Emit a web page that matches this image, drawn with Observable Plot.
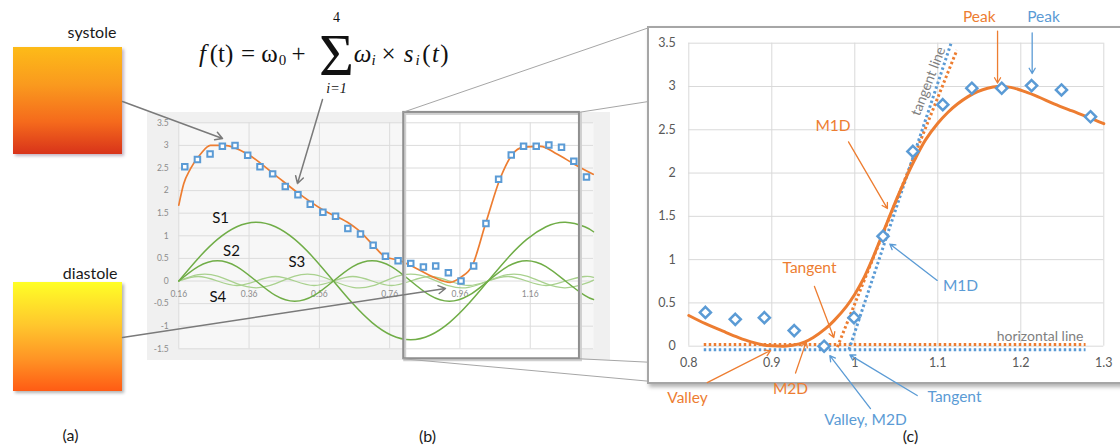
<!DOCTYPE html>
<html><head><meta charset="utf-8">
<script src="https://cdn.jsdelivr.net/npm/d3@7"></script>
<script src="https://cdn.jsdelivr.net/npm/@observablehq/plot@0.6"></script>
<style>
body{margin:0;background:#fff;}
#root{position:relative;width:1120px;height:446px;overflow:hidden;font-family:Lato,"Open Sans",sans-serif;}
.abs{position:absolute;}
#bbg{left:147px;top:112px;width:463px;height:248px;background:#f0f0f0;}
#bplot{left:147px;top:105px;}
#cframe{left:647px;top:26px;width:490px;height:354px;border:2px solid #a6a6a6;background:#fff;box-shadow:2px 3px 4px rgba(0,0,0,0.3);}
#cplot{left:648px;top:0px;}
#sys{left:13px;top:47px;width:109px;height:107px;background:linear-gradient(180deg,#fdbb18 0%,#fa9a1e 35%,#f56a1c 70%,#d8331a 100%);box-shadow:2px 2px 3px rgba(80,40,80,0.35);}
#dia{left:13px;top:282px;width:109px;height:109px;background:linear-gradient(180deg,#ffff26 0%,#ffc62d 40%,#ff9525 70%,#ff5b14 100%);box-shadow:2px 2px 3px rgba(0,0,0,0.3);}
#overlay{left:0;top:0;pointer-events:none;}
</style></head>
<body><div id="root">
<div id="bbg" class="abs"></div>
<div id="bplot" class="abs"></div>
<div id="cframe" class="abs"></div>
<div id="cplot" class="abs"></div>
<div id="sys" class="abs"></div>
<div id="dia" class="abs"></div>
<div id="overlay" class="abs"></div>
</div>
<script>
// ---------- data ----------
// observed samples (blue squares / diamonds)
const bT = [0.177, 0.213, 0.249, 0.284, 0.320, 0.356, 0.391, 0.427, 0.463, 0.499, 0.534, 0.570, 0.606, 0.641, 0.677, 0.713, 0.748, 0.784, 0.820, 0.856, 0.891, 0.927, 0.963, 0.999, 1.034, 1.070, 1.106, 1.141, 1.177, 1.213, 1.249, 1.284, 1.320];
const bSignal = [2.53, 2.69, 2.81, 2.98, 3.00, 2.78, 2.53, 2.37, 2.09, 1.91, 1.70, 1.52, 1.43, 1.16, 1.04, 0.79, 0.55, 0.45, 0.39, 0.31, 0.33, 0.18, 0.00, 0.33, 1.27, 2.25, 2.79, 2.98, 2.98, 3.01, 2.96, 2.65, 2.30];
// fitted curve in panel (b)
const bFitT = [0.16, 0.174, 0.193, 0.222, 0.25, 0.29, 0.355, 0.43, 0.497, 0.573, 0.64, 0.672, 0.71, 0.748, 0.786, 0.828, 0.886, 0.932, 0.962, 0.995, 1.033, 1.076, 1.108, 1.141, 1.189, 1.236, 1.284, 1.339];
const bFit = [1.68, 2.15, 2.48, 2.81, 3.0, 3.0, 2.81, 2.37, 1.96, 1.56, 1.30, 1.12, 0.82, 0.53, 0.46, 0.31, 0.08, -0.03, 0.08, 0.34, 1.27, 2.30, 2.79, 2.96, 2.98, 2.81, 2.59, 2.36];
// basis functions s1..s4
const sT = [0.16, 0.215, 0.27, 0.325, 0.38, 0.435, 0.49, 0.545, 0.60, 0.655, 0.71, 0.765, 0.82, 0.875, 0.93, 0.985, 1.04, 1.095, 1.15, 1.205, 1.26, 1.315, 1.34];
const S1 = [0, 0.50, 0.92, 1.20, 1.30, 1.20, 0.92, 0.50, 0, -0.50, -0.92, -1.20, -1.30, -1.20, -0.92, -0.50, 0, 0.50, 0.92, 1.20, 1.30, 1.20, 1.09];
const S2 = [0, 0.32, 0.45, 0.32, 0, -0.32, -0.45, -0.32, 0, 0.32, 0.45, 0.32, 0, -0.32, -0.45, -0.32, 0, 0.32, 0.45, 0.32, 0, -0.32, -0.41];
const S3 = [0, 0.14, 0.11, -0.06, -0.15, -0.06, 0.11, 0.14, 0, -0.14, -0.11, 0.06, 0.15, 0.06, -0.11, -0.14, 0, 0.14, 0.11, -0.06, -0.15, -0.06, 0.02];
const S4 = [0, 0.10, 0, -0.10, 0, 0.10, 0, -0.10, 0, 0.10, 0, -0.10, 0, 0.10, 0, -0.10, 0, 0.10, 0, -0.10, 0, 0.10, 0.08];
const sLabels = [
  {label: "S1", x: 0.279, y: 1.40},
  {label: "S2", x: 0.310, y: 0.67},
  {label: "S3", x: 0.496, y: 0.42},
  {label: "S4", x: 0.271, y: -0.36}
];
// fitted curve in panel (c)
const cFitT = [0.80, 0.82, 0.842, 0.86, 0.875, 0.89, 0.90, 0.915, 0.925, 0.94, 0.95, 0.965, 0.975, 0.99, 1.0, 1.01, 1.02, 1.03, 1.04, 1.05, 1.06, 1.072, 1.085, 1.10, 1.112, 1.124, 1.136, 1.148, 1.16, 1.172, 1.188, 1.205, 1.221, 1.24, 1.261, 1.28, 1.30];
const cFit = [0.355, 0.26, 0.17, 0.10, 0.05, 0.015, 0.005, 0.0, 0.01, 0.05, 0.10, 0.205, 0.295, 0.46, 0.60, 0.77, 0.98, 1.215, 1.455, 1.69, 1.91, 2.15, 2.38, 2.575, 2.70, 2.80, 2.88, 2.94, 2.98, 3.00, 2.99, 2.94, 2.88, 2.80, 2.72, 2.65, 2.57];
const fitTangent = [{x: 0.979, y: -0.01}, {x: 1.123, y: 3.42}];
const obsTangent = [{x: 0.993, y: -0.04}, {x: 1.116, y: 3.50}];
const fitHorizontal = [{x: 0.818, y: 0.02}, {x: 1.278, y: 0.02}];
const obsHorizontal = [{x: 0.818, y: -0.04}, {x: 1.278, y: -0.04}];
const zoomRange = [0.8, 1.3];
// ticks
const bXTicks = [0.16, 0.36, 0.56, 0.76, 0.96, 1.16];
const bXLabels = ["0.16", "0.36", "0.56", "0.76", "0.96", "1.16"];
const bYTicks = [-1.5, -1, -0.5, 0, 0.5, 1, 1.5, 2, 2.5, 3, 3.5];
const bYLabels = ["-1.5", "-1", "-0.5", "0", "0.5", "1", "1.5", "2", "2.5", "3", "3.5"];
const cXTicks = [0.8, 0.9, 1.0, 1.1, 1.2, 1.3];
const cXLabels = ["0.8", "0.9", "1", "1.1", "1.2", "1.3"];
const cYTicks = [0, 0.5, 1, 1.5, 2, 2.5, 3, 3.5];
const cYLabels = ["0", "0.5", "1", "1.5", "2", "2.5", "3", "3.5"];
// annotations in panel (c)  (series: fit = orange, obs = blue)
const cAnnotations = [
  {label: "Peak", series: "fit", x: 1.150, y: 3.80, x1: 1.172, y1: 3.64, x2: 1.172, y2: 3.04},
  {label: "Peak", series: "obs", x: 1.2274, y: 3.80, x1: 1.2137, y1: 3.62, x2: 1.2137, y2: 3.15},
  {label: "M1D", series: "fit", x: 0.9737, y: 2.54, x1: 0.9924, y1: 2.36, x2: 1.0393, y2: 1.59},
  {label: "M1D", series: "obs", x: 1.1273, y: 0.69, x1: 1.0993, y1: 0.76, x2: 1.0422, y2: 1.18},
  {label: "Tangent", series: "fit", x: 0.9454, y: 0.90, x1: 0.9514, y1: 0.69, x2: 0.9747, y2: 0.10},
  {label: "Tangent", series: "obs", x: 1.1201, y: -0.59, x1: 1.0752, y1: -0.57, x2: 0.994, y2: -0.10},
  {label: "Valley", series: "fit", x: 0.7984, y: -0.60, x1: 0.8222, y1: -0.42, x2: 0.8984, y2: -0.05},
  {label: "M2D", series: "fit", x: 0.9225, y: -0.50, x1: 0.9286, y1: -0.31, x2: 0.9414, y2: 0.05},
  {label: "Valley, M2D", series: "obs", x: 1.0129, y: -0.85, x1: 1.0189, y1: -0.72, x2: 0.9699, y2: -0.11}
];
const lineNotes = [
  {label: "tangent line", x: 1.0887, y: 3.06},
  {label: "horizontal line", x: 1.2755, y: 0.115}
];
// page-level annotations (pixel layout)
const panelLabels = [
  {label: "systole", x: 91.5, y: 32}, {label: "diastole", x: 89.7, y: 273},
  {label: "(a)", x: 70, y: 435}, {label: "(b)", x: 427, y: 436}, {label: "(c)", x: 910, y: 436}
];
const panelArrows = [
  {x1: 122, y1: 101, x2: 222, y2: 138},
  {x1: 122, y1: 337, x2: 445, y2: 288},
  {x1: 322, y1: 99, x2: 297, y2: 183}
];
const zoomConnectors = [
  {x1: 402.7, y1: 111.7, x2: 648, y2: 27.3},
  {x1: 579.3, y1: 111.7, x2: 648, y2: 101},
  {x1: 402.7, y1: 358.3, x2: 648, y2: 380.7},
  {x1: 579.3, y1: 358.3, x2: 648, y2: 361.7}
];
const formulaUpright = [
  {t: "(t)", x: 221, y: 53, s: 25}, {t: "=", x: 247.5, y: 53, s: 25}, {t: "ω", x: 269, y: 53, s: 25},
  {t: "0", x: 282, y: 60, s: 15}, {t: "+", x: 298, y: 53, s: 25}, {t: "Σ", x: 336, y: 55, s: 60},
  {t: "4", x: 336, y: 17, s: 14}, {t: "×", x: 388, y: 53, s: 25},
  {t: "(", x: 426, y: 53, s: 25}, {t: ")", x: 444, y: 53, s: 25}
];
const formulaItalic = [
  {t: "f", x: 202, y: 53, s: 25}, {t: "i=1", x: 336, y: 88, s: 14}, {t: "ω", x: 362, y: 53, s: 25},
  {t: "i", x: 373, y: 60, s: 15}, {t: "s", x: 408, y: 53, s: 25}, {t: "i", x: 417, y: 60, s: 15},
  {t: "t", x: 435, y: 53, s: 25}
];

// ---------- build ----------
const orange = "#ed7d31", blue = "#5b9bd5", green = "#70ad47", lightGreen = "#a9d18e";
const FONT = "Lato, 'Open Sans', sans-serif";
const sTable = sT.map((t, i) => ({t, s1: S1[i], s2: S2[i], s3: S3[i], s4: S4[i]}));
const obs = bT.map((t, i) => ({t, v: bSignal[i]}));
const fitB = bFitT.map((t, i) => ({t, v: bFit[i]}));
const fitC = cFitT.map((t, i) => ({t, v: cFit[i]}));
const obsC = obs.filter(d => d.t >= zoomRange[0] && d.t <= zoomRange[1]);
const zoomBox = [{x1: zoomRange[0], x2: zoomRange[1], y1: -1.72, y2: 3.73}];
const box = {x1: "x1", x2: "x2", y1: "y1", y2: "y2"};

const bPlot = Plot.plot({
  width: 463, height: 258,
  marginLeft: 31.3, marginRight: 17, marginTop: 17.3, marginBottom: 14.7,
  x: {domain: [0.16, 1.34], axis: null},
  y: {domain: [-1.5, 3.5]},
  style: {background: "transparent", overflow: "visible", fontFamily: FONT},
  marks: [
    Plot.frame({fill: "#f7f7f7", stroke: "none"}),
    Plot.rect(zoomBox, {...box, fill: "white"}),
    Plot.gridY(bYTicks, {stroke: "#dcdcdc", strokeOpacity: 1}),
    Plot.gridX(bXTicks, {stroke: "#dcdcdc", strokeOpacity: 1}),
    Plot.axisY(bYTicks, {tickSize: 0, tickPadding: 10, fontSize: 8.5, fill: "#8c8c8c", label: null,
      tickFormat: d => bYLabels[bYTicks.indexOf(d)]}),
    Plot.text(bXTicks, {x: d => d, y: () => 0, text: (d, i) => bXLabels[i], dy: 12.8, fontSize: 8.5, fill: "#8c8c8c"}),
    Plot.line(sTable, {x: "t", y: "s4", curve: "natural", stroke: lightGreen, strokeWidth: 1.3}),
    Plot.line(sTable, {x: "t", y: "s3", curve: "natural", stroke: lightGreen, strokeWidth: 1.3}),
    Plot.line(sTable, {x: "t", y: "s2", curve: "natural", stroke: green, strokeWidth: 1.5}),
    Plot.line(sTable, {x: "t", y: "s1", curve: "natural", stroke: green, strokeWidth: 1.5}),
    Plot.line(fitB, {x: "t", y: "v", curve: "monotone-x", stroke: orange, strokeWidth: 1.7}),
    Plot.dot(obs, {x: "t", y: "v", symbol: "square", r: 3.1, stroke: blue, strokeWidth: 2, fill: "white"}),
    Plot.text(sLabels, {x: "x", y: "y", text: "label", fontSize: 15, fill: "#111"}),
    Plot.rect(zoomBox, {...box, fill: "none", stroke: "#cfcfcf", strokeWidth: 3, dx: 1.5, dy: 1.5}),
    Plot.rect(zoomBox, {...box, fill: "none", stroke: "#8f8f8f", strokeWidth: 2})
  ]
});
document.getElementById("bplot").append(bPlot);

const fitAnn = cAnnotations.filter(d => d.series === "fit");
const obsAnn = cAnnotations.filter(d => d.series === "obs");
const dotted = {x: "x", y: "y", strokeWidth: 3, strokeDasharray: "2.5,2.5", strokeLinecap: "butt"};
const cPlot = Plot.plot({
  width: 472, height: 446,
  marginLeft: 40.3, marginRight: 16.7, marginTop: 42.7, marginBottom: 100.3,
  x: {domain: zoomRange},
  y: {domain: [0, 3.5]},
  style: {background: "transparent", overflow: "visible", fontFamily: FONT},
  marks: [
    Plot.gridX(cXTicks, {stroke: "#d9d9d9", strokeOpacity: 1}),
    Plot.gridY(cYTicks, {stroke: "#d9d9d9", strokeOpacity: 1}),
    Plot.axisY(cYTicks, {tickSize: 0, tickPadding: 13, fontSize: 12.5, fill: "#595959", label: null,
      tickFormat: d => cYLabels[cYTicks.indexOf(d)]}),
    Plot.axisX(cXTicks, {tickSize: 0, tickPadding: 12, fontSize: 12.5, fill: "#595959", label: null,
      tickFormat: d => cXLabels[cXTicks.indexOf(d)]}),
    Plot.text([lineNotes[1]], {x: "x", y: "y", text: "label", textAnchor: "end", fontSize: 14, fill: "#7f7f7f"}),
    Plot.line(fitHorizontal, {...dotted, stroke: orange}),
    Plot.line(obsHorizontal, {...dotted, stroke: blue}),
    Plot.line(fitTangent, {...dotted, stroke: orange}),
    Plot.line(obsTangent, {...dotted, stroke: blue}),
    Plot.text([lineNotes[0]], {x: "x", y: "y", text: "label", rotate: -69, fontSize: 14, fill: "#7f7f7f"}),
    Plot.line(fitC, {x: "t", y: "v", curve: "catmull-rom", stroke: orange, strokeWidth: 3}),
    Plot.dot(obsC, {x: "t", y: "v", symbol: "diamond2", r: 5, stroke: blue, strokeWidth: 2.5, fill: "white"}),
    Plot.arrow(fitAnn, {x1: "x1", y1: "y1", x2: "x2", y2: "y2", stroke: orange, strokeWidth: 1.3, headLength: 7}),
    Plot.arrow(obsAnn, {x1: "x1", y1: "y1", x2: "x2", y2: "y2", stroke: blue, strokeWidth: 1.3, headLength: 7}),
    Plot.text(fitAnn, {x: "x", y: "y", text: "label", fill: orange, fontSize: 15.5}),
    Plot.text(obsAnn, {x: "x", y: "y", text: "label", fill: blue, fontSize: 15.5})
  ]
});
document.getElementById("cplot").append(cPlot);

const SERIF = "'Liberation Serif', 'DejaVu Serif', serif";
const overlay = Plot.plot({
  width: 1120, height: 446, margin: 0,
  x: {domain: [0, 1120], range: [0, 1120], axis: null},
  y: {domain: [0, 446], range: [0, 446], axis: null},
  style: {background: "transparent", overflow: "visible", fontFamily: FONT},
  marks: [
    Plot.link(zoomConnectors, {x1: "x1", y1: "y1", x2: "x2", y2: "y2", stroke: "#a6a6a6", strokeWidth: 1}),
    Plot.arrow(panelArrows, {x1: "x1", y1: "y1", x2: "x2", y2: "y2", stroke: "#7a7a7a", strokeWidth: 1.5, headLength: 8}),
    Plot.text(panelLabels, {x: "x", y: "y", text: "label", fontSize: 16, fill: "#1a1a1a"}),
    Plot.text(formulaUpright, {x: "x", y: "y", text: "t", fontSize: "s", fontFamily: SERIF, fill: "#111"}),
    Plot.text(formulaItalic, {x: "x", y: "y", text: "t", fontSize: "s", fontFamily: SERIF, fontStyle: "italic", fill: "#111"})
  ]
});
document.getElementById("overlay").append(overlay);
</script>
</body></html>
